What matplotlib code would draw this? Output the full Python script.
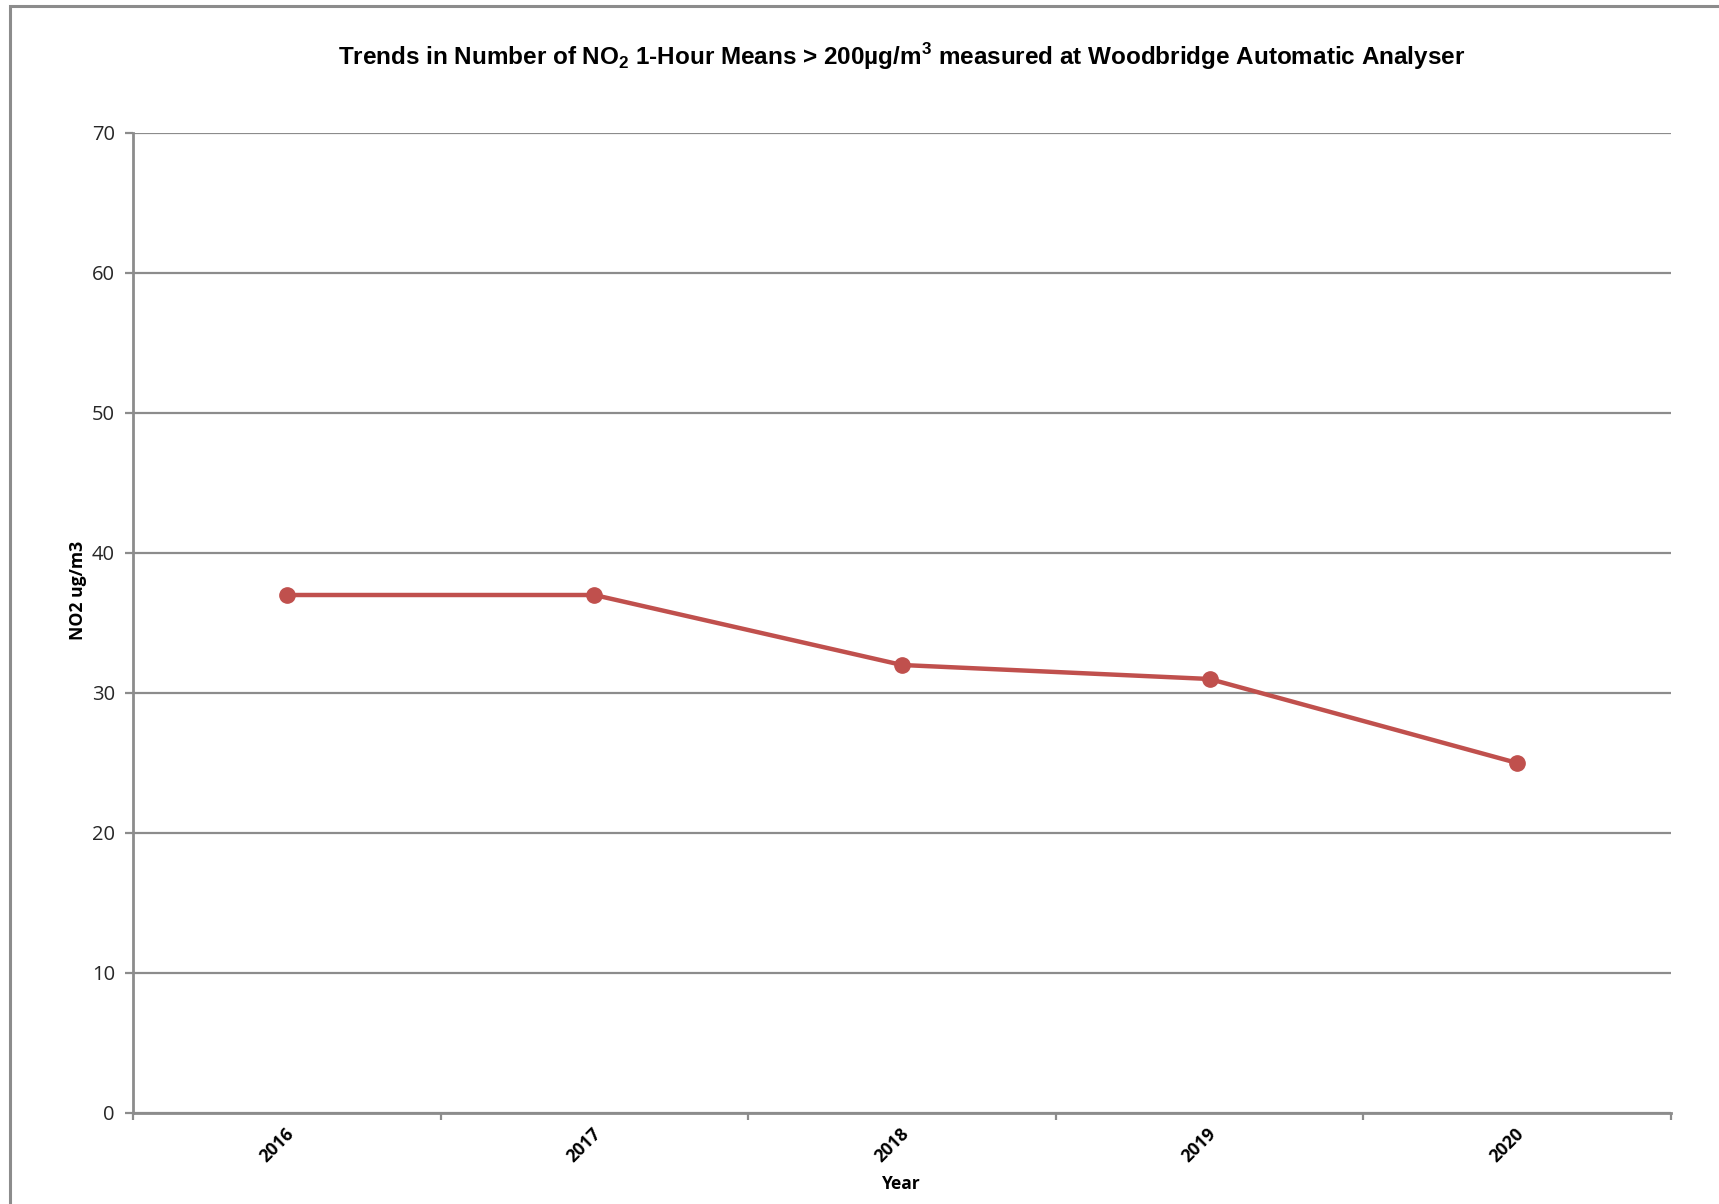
import matplotlib
matplotlib.use("Agg")
import matplotlib.pyplot as plt
from matplotlib.patches import Rectangle
from matplotlib.transforms import ScaledTranslation
import numpy as np

years = ["2016", "2017", "2018", "2019", "2020"]
exceedances = [37, 37, 32, 31, 25]
y_ticks = [0, 10, 20, 30, 40, 50, 60, 70]

W, H = 1719, 1204
fig = plt.figure(figsize=(W / 100, H / 100), dpi=100)
fig.patch.set_facecolor("white")

# outer chart frame (left and top edges visible)
fig.add_artist(Rectangle((10 / W, -0.05), 1.2, 1 - 6 / H + 0.05,
                         transform=fig.transFigure, fill=False,
                         edgecolor="#8c8c8c", linewidth=2.2))

ax = fig.add_axes([133 / W, 1 - 1113 / H, (1671 - 133) / W, (1113 - 133) / H])

x = np.arange(len(years))
ax.plot(x, exceedances, color="#C0504D", linewidth=3.2, marker="o",
        markersize=11, zorder=5, solid_capstyle="round")

ax.set_xlim(-0.5, len(years) - 0.5)
ax.set_ylim(0, 70)
ax.set_yticks(y_ticks)
ax.set_yticklabels([str(v) for v in y_ticks], fontsize=14.5, color="#262626",
                   family="Open Sans")
ax.yaxis.grid(True, color="#8c8c8c", linewidth=1.6)
ax.set_axisbelow(True)

# category labels centred, tick marks at category boundaries
ax.set_xticks(x)
ax.set_xticklabels(years, rotation=45, ha="right", va="center",
                   rotation_mode="anchor", fontsize=12.7, fontweight="bold",
                   family="Open Sans")
ax.tick_params(axis="x", which="major", length=0, pad=13)
shift = ScaledTranslation(4 / 100, 0, fig.dpi_scale_trans)
for lbl in ax.get_xticklabels():
    lbl.set_transform(lbl.get_transform() + shift)
ax.set_xticks(np.arange(-0.5, len(years)), minor=True)
ax.tick_params(axis="x", which="minor", length=5, width=1.6, color="#8c8c8c",
               direction="out")
ax.tick_params(axis="y", length=6, width=1.6, color="#8c8c8c", pad=7)

for side in ("top", "right"):
    ax.spines[side].set_visible(False)
for side in ("left", "bottom"):
    ax.spines[side].set_color("#8c8c8c")
    ax.spines[side].set_linewidth(2.0)

fig.text(78 / W, 1 - 590 / H, "NO2 ug/m3", rotation=90, ha="center",
         va="center", fontsize=12.7, fontweight="bold", family="Open Sans")
fig.text(901 / W, 1 - 1184 / H, "Year", ha="center", va="center",
         fontsize=12.5, fontweight="bold", family="Open Sans")

fig.text(902 / W, 1 - 57 / H,
         r"Trends in Number of NO$_\mathregular{2}$ 1-Hour Means > 200µg/m$^\mathregular{3}$ measured at Woodbridge Automatic Analyser",
         ha="center", va="center", fontsize=17.5, fontweight="bold",
         family="Liberation Sans")

fig.savefig("out.png", dpi=100, facecolor="white")
